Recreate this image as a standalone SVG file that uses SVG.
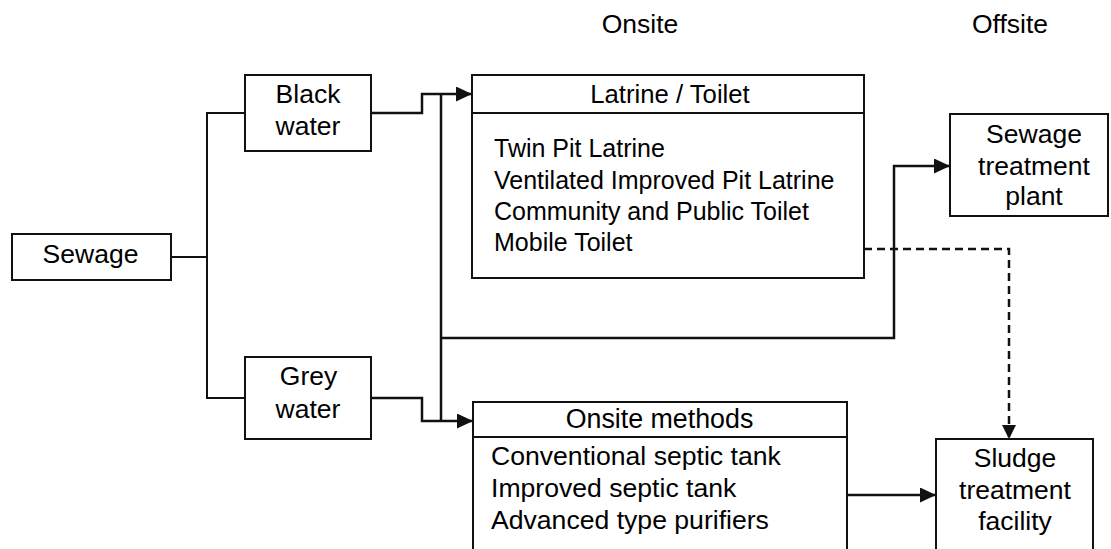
<svg xmlns="http://www.w3.org/2000/svg" width="1111" height="549" viewBox="0 0 1111 549">
<style>
text{font-family:"Liberation Sans",Arial,sans-serif;fill:#000;}
.lbl{font-size:26.5px;text-anchor:middle;}
.lst{font-size:25px;}
.lst2{font-size:26.6px;}
.box{fill:#fff;stroke:#111;stroke-width:2;}
.div{stroke:#111;stroke-width:2;}
.thin{fill:none;stroke:#111;stroke-width:2;}
.conn{fill:none;stroke:#111;stroke-width:2.5;}
.dash{fill:none;stroke:#111;stroke-width:2.5;stroke-dasharray:8 5;}
</style>
<defs>
<marker id="arr" viewBox="0 0 16 15" refX="16" refY="7.5" markerWidth="16" markerHeight="15" markerUnits="userSpaceOnUse" orient="auto">
<path d="M0,0 L16,7.5 L0,15 Z" fill="#111"/>
</marker>
<marker id="arrs" viewBox="0 0 14 14" refX="14" refY="7" markerWidth="14" markerHeight="14" markerUnits="userSpaceOnUse" orient="auto">
<path d="M0,0 L14,7 L0,14 Z" fill="#111"/>
</marker>
</defs>
<rect width="1111" height="549" fill="#fff"/>
<g id="headers">
<text class="lbl" x="640" y="33">Onsite</text>
<text class="lbl" x="1010" y="33">Offsite</text>
</g>
<g id="connectors">
<path class="thin" d="M171,257 H207"/>
<path class="thin" d="M245,113 H207 V398 H245"/>
<path class="conn" d="M371,113 H422 V94 H472" marker-end="url(#arr)"/>
<path class="conn" d="M441,94 V421"/>
<path class="conn" d="M371,398 H422 V421 H473" marker-end="url(#arr)"/>
<path class="conn" d="M441,338 H894 V166 H950" marker-end="url(#arr)"/>
<path class="dash" d="M864,249 H1009 V439" marker-end="url(#arrs)"/>
<path class="conn" d="M847,495 H936" marker-end="url(#arr)"/>
</g>
<g id="sewage">
<rect class="box" x="12" y="234" width="159" height="46"/>
<text class="lbl" x="90.5" y="263">Sewage</text>
</g>
<g id="black-water">
<rect class="box" x="245" y="75" width="126" height="76"/>
<text class="lbl" x="308" y="103">Black</text>
<text class="lbl" x="308" y="135">water</text>
</g>
<g id="grey-water">
<rect class="box" x="245" y="357" width="126" height="82"/>
<text class="lbl" x="308.5" y="385">Grey</text>
<text class="lbl" x="308" y="418">water</text>
</g>
<g id="latrine">
<rect class="box" x="472" y="75" width="392" height="203"/>
<line class="div" x1="472" y1="113" x2="864" y2="113"/>
<text class="lbl" x="670" y="103" style="font-size:25.7px">Latrine / Toilet</text>
<text class="lst" x="494" y="157">Twin Pit Latrine</text>
<text class="lst" x="494" y="189">Ventilated Improved Pit Latrine</text>
<text class="lst" x="494" y="220">Community and Public Toilet</text>
<text class="lst" x="494" y="251">Mobile Toilet</text>
</g>
<g id="sewage-treatment-plant">
<rect class="box" x="950" y="114" width="158" height="102"/>
<text class="lbl" x="1034" y="143">Sewage</text>
<text class="lbl" x="1034" y="175">treatment</text>
<text class="lbl" x="1034" y="205">plant</text>
</g>
<g id="onsite-methods">
<rect class="box" x="473" y="402" width="374" height="160"/>
<line class="div" x1="473" y1="437" x2="847" y2="437"/>
<text class="lbl" x="659.5" y="428" style="font-size:26.8px">Onsite methods</text>
<text class="lst2" x="491" y="465">Conventional septic tank</text>
<text class="lst2" x="491" y="497">Improved septic tank</text>
<text class="lst2" x="491" y="529">Advanced type purifiers</text>
</g>
<g id="sludge-treatment-facility">
<rect class="box" x="936" y="439" width="157" height="123"/>
<text class="lbl" x="1015" y="467">Sludge</text>
<text class="lbl" x="1015" y="499">treatment</text>
<text class="lbl" x="1015" y="530">facility</text>
</g>
</svg>
